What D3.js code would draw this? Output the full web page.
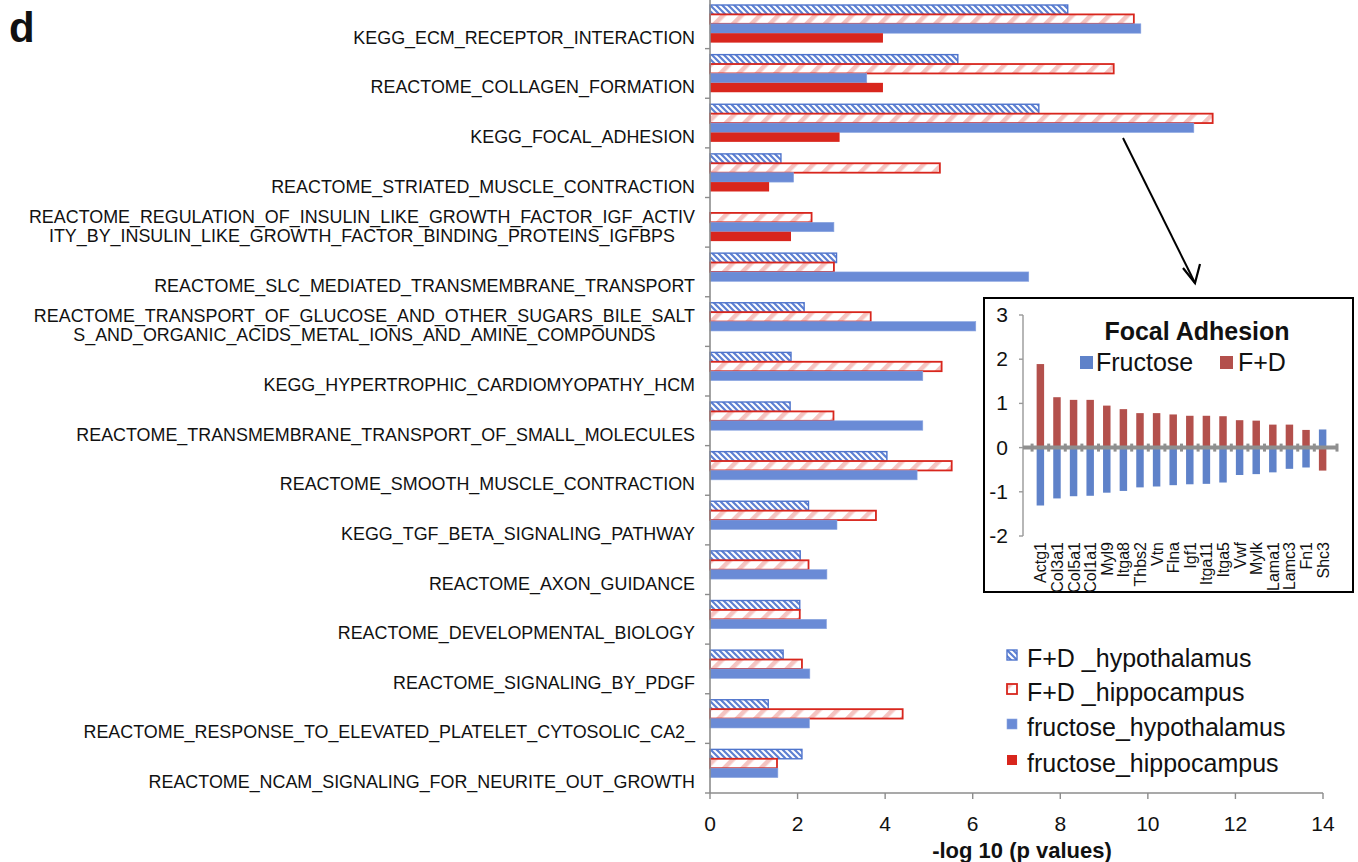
<!DOCTYPE html>
<html>
<head>
<meta charset="utf-8">
<script src="https://cdn.jsdelivr.net/npm/d3@7"></script>
<style>
  body { margin: 0; background: #fff; }
  text { font-family: "Liberation Sans", Arial, sans-serif; fill: #111; }
</style>
</head>
<body>
<script>
// pathways (multi-line ones split on "|")
var categories = [
  "KEGG_ECM_RECEPTOR_INTERACTION",
  "REACTOME_COLLAGEN_FORMATION",
  "KEGG_FOCAL_ADHESION",
  "REACTOME_STRIATED_MUSCLE_CONTRACTION",
  "REACTOME_REGULATION_OF_INSULIN_LIKE_GROWTH_FACTOR_IGF_ACTIV|ITY_BY_INSULIN_LIKE_GROWTH_FACTOR_BINDING_PROTEINS_IGFBPS",
  "REACTOME_SLC_MEDIATED_TRANSMEMBRANE_TRANSPORT",
  "REACTOME_TRANSPORT_OF_GLUCOSE_AND_OTHER_SUGARS_BILE_SALT|S_AND_ORGANIC_ACIDS_METAL_IONS_AND_AMINE_COMPOUNDS",
  "KEGG_HYPERTROPHIC_CARDIOMYOPATHY_HCM",
  "REACTOME_TRANSMEMBRANE_TRANSPORT_OF_SMALL_MOLECULES",
  "REACTOME_SMOOTH_MUSCLE_CONTRACTION",
  "KEGG_TGF_BETA_SIGNALING_PATHWAY",
  "REACTOME_AXON_GUIDANCE",
  "REACTOME_DEVELOPMENTAL_BIOLOGY",
  "REACTOME_SIGNALING_BY_PDGF",
  "REACTOME_RESPONSE_TO_ELEVATED_PLATELET_CYTOSOLIC_CA2_",
  "REACTOME_NCAM_SIGNALING_FOR_NEURITE_OUT_GROWTH"
];
var seriesNames = ["F+D _hypothalamus", "F+D _hippocampus", "fructose_hypothalamus", "fructose_hippocampus"];
var fdHypothalamus = [8.17, 5.66, 7.51, 1.62, null, 2.89, 2.15, 1.85, 1.83, 4.04, 2.25, 2.06, 2.05, 1.67, 1.33, 2.10];
var fdHippocampus = [9.68, 9.22, 11.48, 5.25, 2.32, 2.83, 3.67, 5.29, 2.82, 5.52, 3.79, 2.25, 2.05, 2.10, 4.40, 1.53];
var fructoseHypothalamus = [9.84, 3.58, 11.05, 1.91, 2.83, 7.28, 6.07, 4.86, 4.86, 4.73, 2.90, 2.67, 2.66, 2.28, 2.27, 1.55];
var fructoseHippocampus = [3.95, 3.95, 2.96, 1.35, 1.85, null, null, null, null, null, null, null, null, null, null, null];
var xTicks = [0, 2, 4, 6, 8, 10, 12, 14];

// inset: focal adhesion genes
var genes = ["Actg1","Col3a1","Col5a1","Col1a1","Myl9","Itga8","Thbs2","Vtn","Flna","Igf1","Itga11","Itga5","Vwf","Mylk","Lama1","Lamc3","Fn1","Shc3"];
var geneFructose = [-1.31,-1.15,-1.10,-1.09,-1.02,-0.98,-0.90,-0.88,-0.85,-0.83,-0.82,-0.79,-0.62,-0.60,-0.56,-0.48,-0.45,0.41];
var geneFD = [1.89,1.14,1.08,1.08,0.95,0.87,0.78,0.78,0.75,0.72,0.72,0.71,0.62,0.61,0.52,0.52,0.40,-0.52];
var insetTicks = [3, 2, 1, 0, -1, -2];

var W = 1358, H = 862;
var svg = d3.select("body").append("svg").attr("width", W).attr("height", H);
var defs = svg.append("defs");

var blue = "#6a8bd6", blueLine = "#4f74cc", red = "#d8261d", pink = "#f5c4c1";

// dashed diagonal blue hatch
var p1 = defs.append("pattern").attr("id", "hatchBlue").attr("patternUnits", "userSpaceOnUse")
  .attr("width", 6).attr("height", 6);
p1.append("rect").attr("width", 6).attr("height", 6).attr("fill", "#5d80d2");
p1.append("path").attr("d", "M-1,-1 L7,7 M-4,2 L1,7 M2,-4 L7,1").attr("stroke", "#fff").attr("stroke-width", 2);

// wide pink diagonal stripes
var p2 = defs.append("pattern").attr("id", "hatchRed").attr("patternUnits", "userSpaceOnUse")
  .attr("width", 13).attr("height", 13).attr("patternTransform", "rotate(45)");
p2.append("rect").attr("width", 13).attr("height", 13).attr("fill", "#fff");
p2.append("rect").attr("width", 4.5).attr("height", 13).attr("fill", pink);

var styles = [
  { fill: "url(#hatchBlue)", stroke: blueLine, sw: 1.4 },
  { fill: "url(#hatchRed)", stroke: red, sw: 1.8 },
  { fill: blue, stroke: "#8aa5e0", sw: 0.6 },
  { fill: red, stroke: "none", sw: 0 }
];
var series = [fdHypothalamus, fdHippocampus, fructoseHypothalamus, fructoseHippocampus];

// ---- main chart
var x0 = 710, x1 = 1323, yTop = -1, yBot = 793;
var x = d3.scaleLinear().domain([0, 14]).range([x0, x1]);
var y = d3.scaleBand().domain(d3.range(categories.length)).range([yTop, yBot])
  .paddingInner(0.242).paddingOuter(0.121);
var yi = d3.scaleBand().domain(d3.range(4)).range([0, y.bandwidth()]);

var bars = [];
series.forEach(function (s, k) {
  s.forEach(function (v, i) { if (v != null) bars.push({ k: k, i: i, v: v }); });
});
svg.append("g").selectAll("rect").data(bars).enter().append("rect")
  .attr("x", x(0))
  .attr("y", function (d) { return y(d.i) + yi(d.k); })
  .attr("width", function (d) { return x(d.v) - x(0); })
  .attr("height", yi.bandwidth())
  .attr("fill", function (d) { return styles[d.k].fill; })
  .attr("stroke", function (d) { return styles[d.k].stroke; })
  .attr("stroke-width", function (d) { return styles[d.k].sw; });

// axes
var axisCol = "#8c8c8c";
var step = y.step();
var gy = svg.append("g");
gy.append("line").attr("x1", x0).attr("x2", x0).attr("y1", yTop).attr("y2", yBot)
  .attr("stroke", axisCol).attr("stroke-width", 1.6);
gy.selectAll(".tk").data(d3.range(categories.length + 1)).enter().append("line")
  .attr("x1", x0 - 5).attr("x2", x0)
  .attr("y1", function (d) { return yTop + d * step; })
  .attr("y2", function (d) { return yTop + d * step; })
  .attr("stroke", axisCol).attr("stroke-width", 1.4);

var gx = svg.append("g");
gx.append("line").attr("x1", x0).attr("x2", x1).attr("y1", yBot).attr("y2", yBot)
  .attr("stroke", axisCol).attr("stroke-width", 1.6);
gx.selectAll(".tk").data(xTicks).enter().append("line")
  .attr("x1", x).attr("x2", x).attr("y1", yBot).attr("y2", yBot + 6)
  .attr("stroke", axisCol).attr("stroke-width", 1.4);
gx.selectAll("text").data(xTicks).enter().append("text")
  .attr("x", x).attr("y", 831).attr("text-anchor", "middle")
  .style("font-size", "21px").text(function (d) { return d; });
svg.append("text").attr("x", 1022).attr("y", 858).attr("text-anchor", "middle")
  .style("font-size", "22px").style("font-weight", "bold").text("-log 10 (p values)");

// category labels, bottom-aligned in each band
var lf = "17.9px";
categories.forEach(function (c, i) {
  var lines = c.split("|");
  var base = yTop + (i + 1) * step - 5;
  var g = svg.append("g");
  if (lines.length == 1) {
    g.append("text").attr("x", 695).attr("y", base).attr("text-anchor", "end")
      .style("font-size", lf).text(c);
  } else {
    var t1 = g.append("text").attr("y", base - 19).attr("text-anchor", "middle")
      .style("font-size", lf).text(lines[0]);
    var w = t1.node().getComputedTextLength();
    var cx = 695 - w / 2;
    t1.attr("x", cx);
    g.append("text").attr("x", cx).attr("y", base).attr("text-anchor", "middle")
      .style("font-size", lf).text(lines[1]);
  }
});

svg.append("text").attr("x", 9).attr("y", 42).style("font-size", "42px")
  .style("font-weight", "bold").text("d");

// legend
var leg = svg.append("g");
var legY = [667, 701, 736, 772];
seriesNames.forEach(function (n, k) {
  leg.append("rect").attr("x", 1007).attr("y", legY[k] - 17).attr("width", 10).attr("height", 10)
    .attr("fill", styles[k].fill).attr("stroke", styles[k].stroke).attr("stroke-width", styles[k].sw);
  leg.append("text").attr("x", 1027).attr("y", legY[k]).style("font-size", "25px").text(n);
});

// arrow to inset
svg.append("line").attr("x1", 1123).attr("y1", 138).attr("x2", 1195).attr("y2", 283)
  .attr("stroke", "#000").attr("stroke-width", 2);
svg.append("path").attr("d", "M1183,268 L1195,283 L1200,264").attr("fill", "none")
  .attr("stroke", "#000").attr("stroke-width", 2.2);

// ---- inset chart
var inset = svg.append("g");
inset.append("rect").attr("x", 984).attr("y", 298).attr("width", 369).attr("height", 294)
  .attr("fill", "#fff").attr("stroke", "#000").attr("stroke-width", 2);
var iy = d3.scaleLinear().domain([-2, 3]).range([536, 315]);
var ix = d3.scaleBand().domain(genes).range([1027.5, 1335.5]).padding(0.55);
var iax = 1023, iaxEnd = 1337;

inset.append("line").attr("x1", iax).attr("x2", iax).attr("y1", iy(3)).attr("y2", iy(-2))
  .attr("stroke", "#999").attr("stroke-width", 1.4);
inset.selectAll(".tk").data(insetTicks).enter().append("line")
  .attr("x1", iax - 4).attr("x2", iax).attr("y1", iy).attr("y2", iy)
  .attr("stroke", "#999").attr("stroke-width", 1.4);
inset.selectAll(".lb").data(insetTicks).enter().append("text")
  .attr("x", 1008).attr("y", function (d) { return iy(d) + 7; }).attr("text-anchor", "end")
  .style("font-size", "21px").text(function (d) { return d; });

var iblue = "#5f82c9", ired = "#b3504c";
function ibar(arr, col) {
  inset.append("g").selectAll("rect").data(genes).enter().append("rect")
    .attr("x", function (g) { return ix(g); })
    .attr("width", ix.bandwidth())
    .attr("y", function (g, i) { return iy(Math.max(0, arr[i])); })
    .attr("height", function (g, i) { return Math.abs(iy(arr[i]) - iy(0)); })
    .attr("fill", col);
}
ibar(geneFD, ired);
ibar(geneFructose, iblue);

inset.append("line").attr("x1", iax).attr("x2", iaxEnd).attr("y1", iy(0)).attr("y2", iy(0))
  .attr("stroke", "#8f8f8f").attr("stroke-width", 4);
var bounds = genes.map(function (g) { return ix(g) - ix.step() * ix.paddingInner() / 2; });
bounds.push(iaxEnd);
inset.selectAll(".gt").data(bounds).enter().append("line")
  .attr("x1", function (d) { return d; }).attr("x2", function (d) { return d; })
  .attr("y1", iy(0) - 4).attr("y2", iy(0) + 4)
  .attr("stroke", "#8f8f8f").attr("stroke-width", 3);

inset.selectAll(".gl").data(genes).enter().append("text")
  .attr("transform", function (g) { return "translate(" + (ix(g) + ix.bandwidth() / 2 + 6) + ",542) rotate(-90)"; })
  .attr("text-anchor", "end").style("font-size", "16px").text(function (g) { return g; });

inset.append("text").attr("x", 1197).attr("y", 340).attr("text-anchor", "middle")
  .style("font-size", "25px").style("font-weight", "bold").text("Focal Adhesion");
inset.append("rect").attr("x", 1080).attr("y", 356).attr("width", 13).attr("height", 13).attr("fill", iblue);
inset.append("text").attr("x", 1096).attr("y", 371).style("font-size", "25px").text("Fructose");
inset.append("rect").attr("x", 1220).attr("y", 356).attr("width", 13).attr("height", 13).attr("fill", ired);
inset.append("text").attr("x", 1238).attr("y", 371).style("font-size", "25px").text("F+D");
</script>
</body>
</html>
